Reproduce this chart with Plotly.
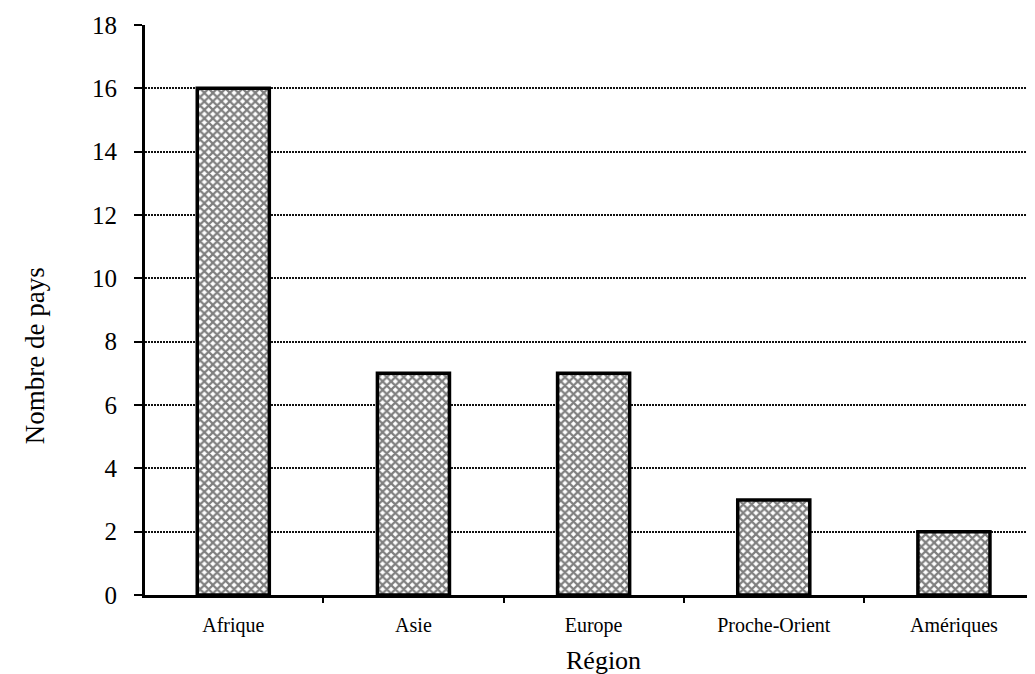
import plotly.graph_objects as go

regions = ["Afrique", "Asie", "Europe", "Proche-Orient", "Amériques"]
nb_pays = [16, 7, 7, 3, 2]
y_ticks = [0, 2, 4, 6, 8, 10, 12, 14, 16, 18]

fig = go.Figure()
fig.add_trace(go.Bar(
    x=regions, y=nb_pays, width=0.4,
    marker=dict(
        color="white",
        line=dict(color="black", width=3.5),
        pattern=dict(shape="x", fgcolor="#000000", bgcolor="white", size=6, solidity=0.6),
    ),
))

serif = "Liberation Serif"
fig.update_layout(
    width=1027, height=666,
    margin=dict(l=137, r=0, t=17, b=79),
    plot_bgcolor="white", paper_bgcolor="white",
    showlegend=False,
    font=dict(family=serif, color="black"),
    xaxis=dict(
        range=[-0.49, 4.45],
        showline=True, linecolor="black", linewidth=3,
        ticks="outside", tickson="boundaries", ticklen=5, tickwidth=2, tickcolor="black",
        tickfont=dict(family=serif, size=20),
        ticklabelstandoff=10,
        showgrid=False,
    ),
    yaxis=dict(
        range=[0, 18], tickvals=y_ticks,
        showline=True, linecolor="black", linewidth=3,
        ticks="outside", ticklen=8, tickwidth=2, tickcolor="black",
        tickfont=dict(family=serif, size=25),
        ticklabelstandoff=12,
        showgrid=True, gridcolor="#111111", gridwidth=2, griddash="2px,1px",
        zeroline=False,
    ),
    annotations=[
        dict(text="Nombre de pays", xref="paper", yref="paper", x=0, y=0.419,
             xshift=-110, xanchor="center", yanchor="middle", textangle=-90,
             showarrow=False, font=dict(family=serif, size=27)),
        dict(text="Région", xref="paper", yref="paper", x=0.515, y=0,
             yshift=-65, xanchor="center", yanchor="middle",
             showarrow=False, font=dict(family=serif, size=26)),
    ],
)

fig.write_html("out.html")
